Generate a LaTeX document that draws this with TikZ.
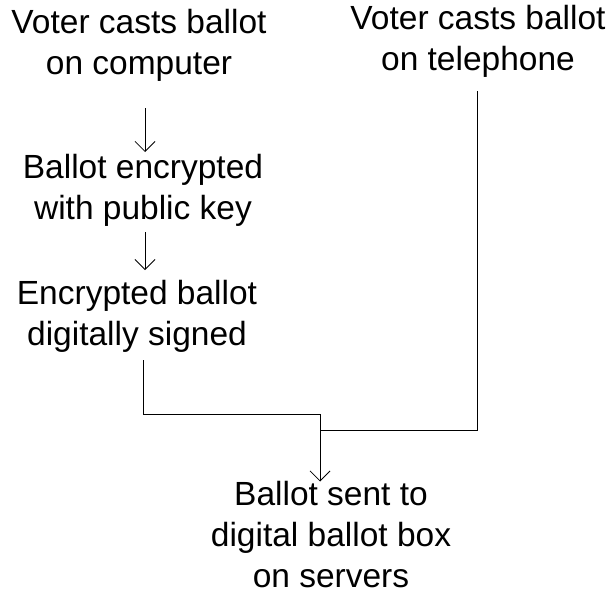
\documentclass[tikz,border=0pt]{standalone}
\usepackage{fontspec}
\setmainfont{Liberation Sans}
\usetikzlibrary{arrows.meta}

\tikzset{
  step text/.style={align=center, inner sep=0pt, font=\fontsize{33.5}{41}\selectfont},
  flow/.style={line width=0.8pt, -{Straight Barb[length=10pt,width=20pt,line width=0.8pt]}},
  link/.style={line width=0.8pt}
}

\begin{document}
\begin{tikzpicture}[x=1pt, y=-1pt]
            \useasboundingbox (0,0) rectangle (608,594);
            \node[step text] (computer) at (139,45) {Voter casts ballot\\on computer};
            \node[step text] (telephone) at (478,41) {Voter casts ballot\\on telephone};
            \node[step text] (encrypt) at (143,190) {Ballot encrypted\\with public key};
            \node[step text] (sign) at (137,316) {Encrypted ballot\\digitally signed};
            \node[step text] (box) at (331,535) {Ballot sent to\\digital ballot box\\on servers};
            \coordinate (join) at (320,414);
            \draw[flow] (145,108) -- (145,152);
            \draw[flow] (145,232) -- (145,270);
            \draw[link] (sign.south -| 143,0) ++(0,8) |- (join);
            \draw[link] (telephone.south -| 477,0) ++(0,14) |- (join |- 0,430);
            \draw[flow] (join) -- (join |- box.north);
\end{tikzpicture}
\end{document}
